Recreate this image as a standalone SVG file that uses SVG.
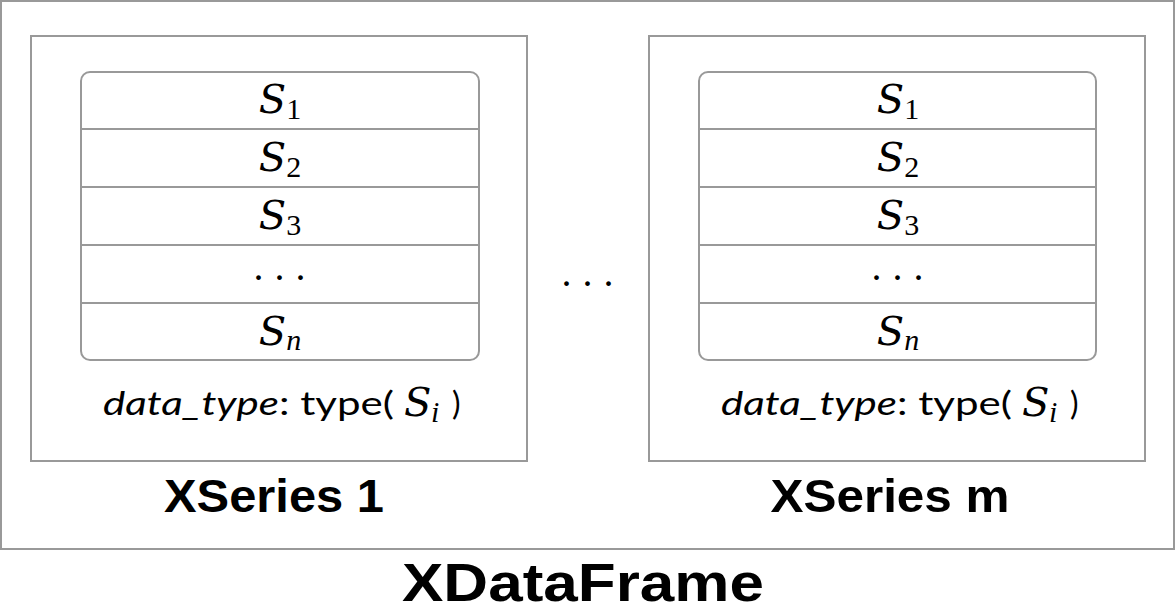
<svg xmlns="http://www.w3.org/2000/svg" width="1176" height="612" viewBox="0 0 1176 612">
<style>
.frame{fill:none;stroke:#999;stroke-width:2}
.row{stroke:#999;stroke-width:2}
.s{font-family:"DejaVu Serif",serif;font-style:italic;font-size:40px;fill:#000}
.sub{font-family:"Liberation Serif",serif;font-style:normal;font-size:30px}
.subi{font-family:"Liberation Serif",serif;font-style:italic;font-size:30px}
.dots{font-family:"Liberation Serif",serif;font-size:40px;letter-spacing:11px;fill:#000}
.dt{font-family:"Lato","Liberation Sans",sans-serif;font-size:32px;fill:#000}
.title{font-family:"Liberation Sans",sans-serif;font-weight:bold;fill:#000}
</style>
<rect class="frame" x="1" y="1" width="1173" height="548"/>
<g id="xseries1">
<rect class="frame" x="31" y="36" width="496" height="425"/>
<rect class="frame" x="81" y="72" width="398" height="288" rx="9"/>
<g class="row"><line x1="81" y1="129" x2="479" y2="129"/><line x1="81" y1="187" x2="479" y2="187"/><line x1="81" y1="245" x2="479" y2="245"/><line x1="81" y1="303" x2="479" y2="303"/></g>
<text class="s" x="280" y="113" text-anchor="middle">S<tspan class="sub" dy="6">1</tspan></text>
<text class="s" x="280" y="171" text-anchor="middle">S<tspan class="sub" dy="6">2</tspan></text>
<text class="s" x="280" y="229" text-anchor="middle">S<tspan class="sub" dy="6">3</tspan></text>
<text class="dots" x="285" y="280" text-anchor="middle">...</text>
<text class="s" x="280" y="345" text-anchor="middle">S<tspan class="subi" dy="5">n</tspan></text>
<text class="dt" x="103" y="415" textLength="291" lengthAdjust="spacingAndGlyphs"><tspan font-style="italic">data_type</tspan>: type(</text>
<text class="s" x="404" y="416" font-size="47">S<tspan class="subi" x="431" dy="6">i</tspan></text>
<text class="dt" x="452" y="415">)</text>
<text class="title" x="274" y="512" text-anchor="middle" font-size="47" textLength="220" lengthAdjust="spacingAndGlyphs">XSeries 1</text>
</g>
<g id="xseriesm">
<rect class="frame" x="649" y="36" width="496" height="425"/>
<rect class="frame" x="699" y="72" width="397" height="288" rx="9"/>
<g class="row"><line x1="699" y1="129" x2="1096" y2="129"/><line x1="699" y1="187" x2="1096" y2="187"/><line x1="699" y1="245" x2="1096" y2="245"/><line x1="699" y1="303" x2="1096" y2="303"/></g>
<text class="s" x="898" y="113" text-anchor="middle">S<tspan class="sub" dy="6">1</tspan></text>
<text class="s" x="898" y="171" text-anchor="middle">S<tspan class="sub" dy="6">2</tspan></text>
<text class="s" x="898" y="229" text-anchor="middle">S<tspan class="sub" dy="6">3</tspan></text>
<text class="dots" x="903" y="280" text-anchor="middle">...</text>
<text class="s" x="898" y="345" text-anchor="middle">S<tspan class="subi" dy="5">n</tspan></text>
<text class="dt" x="721" y="415" textLength="291" lengthAdjust="spacingAndGlyphs"><tspan font-style="italic">data_type</tspan>: type(</text>
<text class="s" x="1022" y="416" font-size="47">S<tspan class="subi" x="1049" dy="6">i</tspan></text>
<text class="dt" x="1070" y="415">)</text>
<text class="title" x="890" y="512" text-anchor="middle" font-size="47" textLength="239" lengthAdjust="spacingAndGlyphs">XSeries m</text>
</g>
<g id="connectors"></g>
<text class="dots" x="593" y="286" text-anchor="middle">...</text>
<text class="title" x="583" y="601" text-anchor="middle" font-size="53" textLength="362" lengthAdjust="spacingAndGlyphs">XDataFrame</text>
</svg>
